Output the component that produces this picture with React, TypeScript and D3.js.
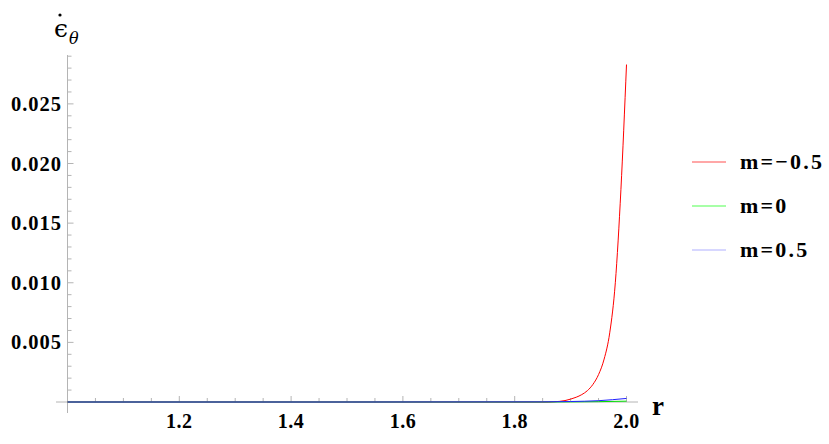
import React from "react";
import * as d3 from "d3";

const xTicks = [1.2, 1.4, 1.6, 1.8, 2.0];
const xMinorTicks = [1.05, 1.1, 1.15, 1.25, 1.3, 1.35, 1.45, 1.5, 1.55, 1.65, 1.7, 1.75, 1.85, 1.9, 1.95];
const yTicks = [0.005, 0.01, 0.015, 0.02, 0.025];
const yMinorTicks = [0.001, 0.002, 0.003, 0.004, 0.006, 0.007, 0.008, 0.009, 0.011, 0.012, 0.013, 0.014, 0.016, 0.017, 0.018, 0.019, 0.021, 0.022, 0.023, 0.024, 0.026, 0.027, 0.028, 0.029];

const redR = [1.0, 1.5, 1.86, 1.87, 1.88, 1.89, 1.9, 1.91, 1.92, 1.93, 1.94, 1.95, 1.96, 1.97, 1.98, 1.99, 2.0];
const redV = [0, 0, 0, 0.00002, 0.00005, 0.00012, 0.00024, 0.0004, 0.00062, 0.00095, 0.00148, 0.0023, 0.0036, 0.0058, 0.0100, 0.0178, 0.0283];
const greenR = [1.0, 1.5, 1.85, 1.9, 1.95, 2.0];
const greenV = [0, 0, 0, 0.00001, 0.00003, 0.00007];
const blueR = [1.0, 1.5, 1.85, 1.9, 1.95, 2.0];
const blueV = [0, 0, 0.00001, 0.00004, 0.00011, 0.0003];

const seriesNames = ["m=\u22120.5", "m=0", "m=0.5"];
const seriesColors = ["#ff0000", "#00dd00", "#2020ff"];
const legendColors = ["#ff5050", "#50ff50", "#b0b0ff"];

export default function App() {
  const x = d3.scaleLinear().domain([1, 2]).range([67.5, 626.5]);
  const y = d3.scaleLinear().domain([0, 0.0291]).range([402, 55]);
  const line = d3
    .line<[number, number]>()
    .x((d) => x(d[0]))
    .y((d) => y(d[1]))
    .curve(d3.curveMonotoneX);
  const series = [
    d3.zip(redR, redV) as [number, number][],
    d3.zip(greenR, greenV) as [number, number][],
    d3.zip(blueR, blueV) as [number, number][],
  ];
  const axisColor = "#b4b4b4";
  const font = "'Liberation Serif', 'Times New Roman', serif";
  return (
    <svg
      width={829}
      height={444}
      style={{ position: "absolute", left: 0, top: 0, background: "#fff" }}
      fontFamily={font}
    >
      {/* axes */}
      <line x1={56} x2={638} y1={y(0)} y2={y(0)} stroke={axisColor} strokeWidth={1} />
      <line x1={x(1)} x2={x(1)} y1={55} y2={413} stroke={axisColor} strokeWidth={1} />
      {xTicks.map((t) => (
        <g key={"xt" + t}>
          <line x1={x(t)} x2={x(t)} y1={y(0)} y2={y(0) - 6} stroke={axisColor} />
          <text x={x(t)} y={428} textAnchor="middle" fontSize={20} fontWeight="bold" letterSpacing={0.5}>
            {t.toFixed(1)}
          </text>
        </g>
      ))}
      {xMinorTicks.map((t) => (
        <line key={"xm" + t} x1={x(t)} x2={x(t)} y1={y(0)} y2={y(0) - 4} stroke={axisColor} />
      ))}
      {yTicks.map((t) => (
        <g key={"yt" + t}>
          <line x1={x(1)} x2={x(1) + 6} y1={y(t)} y2={y(t)} stroke={axisColor} />
          <text x={62} y={y(t) + 7} textAnchor="end" fontSize={20.5} fontWeight="bold" letterSpacing={1}>
            {t.toFixed(3)}
          </text>
        </g>
      ))}
      {yMinorTicks.map((t) => (
        <line key={"ym" + t} x1={x(1)} x2={x(1) + 4} y1={y(t)} y2={y(t)} stroke={axisColor} />
      ))}
      {/* curves */}
      {series.map((s, i) => (
        <path key={"s" + i} d={line(s) || ""} fill="none" stroke={seriesColors[i]} strokeWidth={1} />
      ))}
      {/* axis labels */}
      <text x={54} y={37} fontSize={25} fontFamily="'DejaVu Serif', serif">
        {"\u03f5"}
      </text>
      <circle cx={60} cy={15} r={1.6} fill="#000" />
      <text x={69} y={44} fontSize={16} fontStyle="italic" fontFamily="'DejaVu Serif', serif">
        {"\u03b8"}
      </text>
      <text x={652} y={415} fontSize={27} fontWeight="bold">
        r
      </text>
      {/* legend */}
      {seriesNames.map((n, i) => (
        <g key={"lg" + i}>
          <line x1={692} x2={726} y1={162 + i * 44} y2={162 + i * 44} stroke={legendColors[i]} strokeWidth={1.2} />
          <text x={740} y={169 + i * 44} fontSize={22} fontWeight="bold" letterSpacing={2.2}>
            {n}
          </text>
        </g>
      ))}
    </svg>
  );
}
